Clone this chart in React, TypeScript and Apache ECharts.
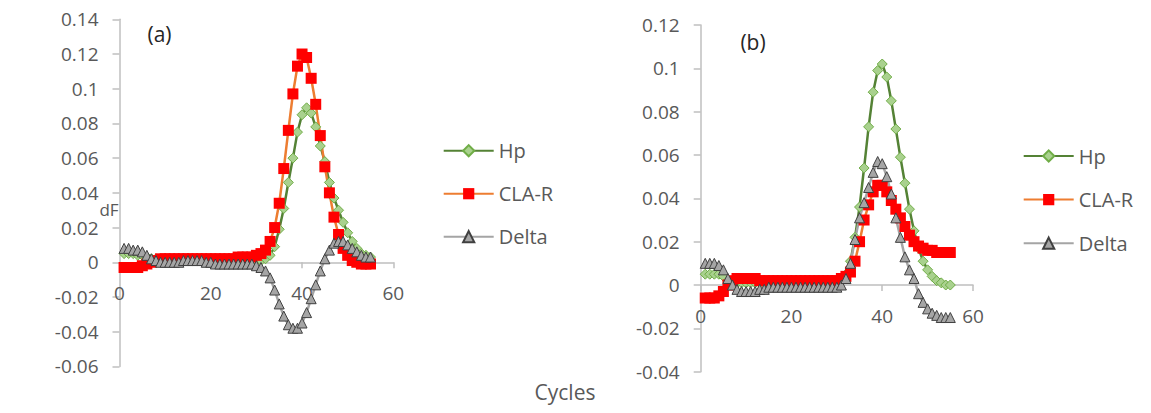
import React, { useEffect, useRef } from "react";
import * as echarts from "echarts";

const cycles = [
  1, 2, 3, 4, 5, 6, 7, 8, 9, 10, 11, 12, 13, 14, 15, 16, 17, 18, 19, 20,
  21, 22, 23, 24, 25, 26, 27, 28, 29, 30, 31, 32, 33, 34, 35, 36, 37, 38, 39, 40,
  41, 42, 43, 44, 45, 46, 47, 48, 49, 50, 51, 52, 53, 54, 55,
];

// Panel (a)
const hpA = [
  0.005, 0.005, 0.005, 0.004, 0.004, 0.003, 0.002, 0.002, 0.002, 0.002,
  0.002, 0.002, 0.002, 0.002, 0.002, 0.002, 0.002, 0.002, 0.002, 0.001,
  0.001, 0.001, 0.001, 0.001, 0.001, 0.001, 0.001, 0.001, 0.001, 0.001,
  0.001, 0.002, 0.004, 0.009, 0.019, 0.031, 0.046, 0.060, 0.075, 0.085,
  0.089, 0.086, 0.078, 0.067, 0.058, 0.046, 0.037, 0.030, 0.023, 0.017,
  0.012, 0.008, 0.005, 0.004, 0.003,
];
const claA = [
  -0.003, -0.003, -0.003, -0.003, -0.002, -0.001, 0.0, 0.001, 0.002, 0.002,
  0.002, 0.002, 0.002, 0.002, 0.002, 0.002, 0.002, 0.002, 0.002, 0.002,
  0.002, 0.002, 0.002, 0.002, 0.002, 0.003, 0.003, 0.003, 0.003, 0.004,
  0.005, 0.007, 0.012, 0.020, 0.034, 0.054, 0.076, 0.097, 0.113, 0.120,
  0.118, 0.106, 0.091, 0.073, 0.055, 0.040, 0.026, 0.016, 0.008, 0.004,
  0.001, 0.0, -0.001, -0.001, -0.001,
];
const deltaA = [
  0.008, 0.008, 0.007, 0.007, 0.006, 0.004, 0.002, 0.001, 0.0, 0.0,
  0.0, 0.0, 0.0, 0.001, 0.001, 0.001, 0.001, 0.001, 0.0, 0.0,
  -0.001, -0.001, -0.001, -0.001, -0.001, -0.001, -0.001, -0.001, -0.001, -0.002,
  -0.003, -0.005, -0.009, -0.016, -0.024, -0.031, -0.036, -0.038, -0.038, -0.035,
  -0.029, -0.021, -0.013, -0.005, 0.002, 0.007, 0.011, 0.012, 0.012, 0.010,
  0.008, 0.006, 0.004, 0.003, 0.003,
];

// Panel (b)
const hpB = [
  0.005, 0.005, 0.005, 0.005, 0.004, 0.002, 0.001, 0.001, 0.001, 0.001,
  0.001, 0.001, 0.001, 0.001, 0.001, 0.001, 0.001, 0.001, 0.001, 0.001,
  0.001, 0.001, 0.001, 0.001, 0.001, 0.001, 0.001, 0.001, 0.001, 0.001,
  0.002, 0.005, 0.011, 0.022, 0.036, 0.054, 0.073, 0.089, 0.099, 0.102,
  0.096, 0.085, 0.072, 0.059, 0.047, 0.035, 0.025, 0.017, 0.011, 0.007,
  0.004, 0.002, 0.001, 0.0, 0.0,
];
const claB = [
  -0.006, -0.006, -0.006, -0.005, -0.003, 0.0, 0.002, 0.003, 0.003, 0.003,
  0.003, 0.003, 0.002, 0.002, 0.002, 0.002, 0.002, 0.002, 0.002, 0.002,
  0.002, 0.002, 0.002, 0.002, 0.002, 0.002, 0.002, 0.002, 0.002, 0.002,
  0.003, 0.004, 0.006, 0.011, 0.020, 0.030, 0.037, 0.043, 0.046, 0.046,
  0.043, 0.039, 0.035, 0.031, 0.027, 0.023, 0.020, 0.018, 0.017, 0.016,
  0.016, 0.015, 0.015, 0.015, 0.015,
];
const deltaB = [
  0.010, 0.010, 0.010, 0.009, 0.007, 0.003, 0.0, -0.002, -0.003, -0.003,
  -0.003, -0.003, -0.002, -0.002, -0.001, -0.001, -0.001, -0.001, -0.001, -0.001,
  -0.001, -0.001, -0.001, -0.001, -0.001, -0.001, -0.001, -0.001, -0.001, -0.001,
  0.0, 0.003, 0.010, 0.021, 0.031, 0.038, 0.045, 0.052, 0.057, 0.056,
  0.050, 0.042, 0.031, 0.022, 0.013, 0.007, 0.003, -0.004, -0.008, -0.011,
  -0.013, -0.014, -0.015, -0.015, -0.015,
];

const seriesNames = ["Hp", "CLA-R", "Delta"];
const xTicks = { min: 0, max: 60, interval: 20 };
const yTicksA = { min: -0.06, max: 0.14, interval: 0.02 };
const yTicksB = { min: -0.04, max: 0.12, interval: 0.02 };

const FONT = "'Open Sans', sans-serif";
const LABEL = "#595959";
const AXIS = "#BFBFBF";

const gridA = { left: 119.5, top: 19.3, width: 273.8, height: 347.1 };
const gridB = { left: 700.7, top: 25, width: 272.3, height: 346.7 };

const pair = (ys: number[]) => cycles.map((c, i) => [c, ys[i]]);

const styles: Record<string, any> = {
  Hp: {
    symbol: "diamond",
    symbolSize: 10,
    lineStyle: { color: "#548235", width: 2.5 },
    itemStyle: { color: "#A9D18E", borderColor: "#70AD47", borderWidth: 1 },
  },
  "CLA-R": {
    symbol: "rect",
    symbolSize: 11,
    lineStyle: { color: "#ED7D31", width: 2.5 },
    itemStyle: { color: "#FF0000", borderColor: "#FF0000", borderWidth: 0 },
  },
  Delta: {
    symbol: "triangle",
    symbolSize: 10,
    lineStyle: { color: "#A5A5A5", width: 2.5 },
    itemStyle: { color: "#A5A5A5", borderColor: "#404040", borderWidth: 1 },
  },
};

const fmt = (v: number) => String(Math.round(v * 100) / 100);

// x axis sits on y = 0: shift it up from the grid bottom by the zero position
function zeroOffset(grid: any, t: any) {
  return -grid.height * ((0 - t.min) / (t.max - t.min));
}

function makeX(gridIndex: number, grid: any, t: any) {
  return {
    type: "value",
    gridIndex,
    ...xTicks,
    position: "bottom",
    offset: zeroOffset(grid, t),
    axisLine: { onZero: false, lineStyle: { color: AXIS, width: 1.5 } },
    axisTick: { show: true, length: 6, lineStyle: { color: AXIS, width: 1.5 } },
    splitLine: { show: false },
    axisLabel: { color: LABEL, fontSize: 19, fontFamily: FONT, margin: 21 },
  };
}
function makeY(gridIndex: number, t: any) {
  return {
    type: "value",
    gridIndex,
    ...t,
    axisLine: { show: true, onZero: false, lineStyle: { color: AXIS, width: 1.5 } },
    axisTick: { show: true, length: 7, lineStyle: { color: AXIS, width: 1.5 } },
    splitLine: { show: false },
    axisLabel: { color: LABEL, fontSize: 19, fontFamily: FONT, margin: 21, formatter: fmt },
  };
}

function makeSeries(name: string, data: number[], idx: number) {
  return {
    type: "line",
    name,
    xAxisIndex: idx,
    yAxisIndex: idx,
    data: pair(data),
    showSymbol: true,
    ...styles[name],
  };
}

export default function App() {
  const ref = useRef<HTMLDivElement>(null);
  useEffect(() => {
    if (!ref.current) return;
    const chart = echarts.init(ref.current, null, { renderer: "svg" });
    const legendBase = {
      orient: "vertical",
      itemWidth: 50,
      itemHeight: 14,
      itemGap: 23,
      textStyle: { color: LABEL, fontSize: 20, fontFamily: FONT },
      data: seriesNames,
    };
    chart.setOption({
      animation: false,
      backgroundColor: "#ffffff",
      grid: [gridA, gridB],
      xAxis: [makeX(0, gridA, yTicksA), makeX(1, gridB, yTicksB)],
      yAxis: [makeY(0, yTicksA), makeY(1, yTicksB)],
      legend: [
        { ...legendBase, left: 437.7, top: 135.7 },
        { ...legendBase, left: 1017.7, top: 141, itemGap: 23.6 },
      ],
      graphic: [
        {
          type: "text",
          x: 159.5,
          y: 34,
          style: { text: "(a)", fontSize: 21, fontFamily: FONT, fill: "#262626", align: "center", verticalAlign: "middle" },
        },
        {
          type: "text",
          x: 753,
          y: 42,
          style: { text: "(b)", fontSize: 21, fontFamily: FONT, fill: "#262626", align: "center", verticalAlign: "middle" },
        },
        {
          type: "text",
          x: 109,
          y: 209,
          style: { text: "dF", fontSize: 17, fontFamily: FONT, fill: LABEL, align: "center", verticalAlign: "middle" },
        },
        {
          type: "text",
          x: 565,
          y: 392,
          style: { text: "Cycles", fontSize: 21, fontFamily: FONT, fill: LABEL, align: "center", verticalAlign: "middle" },
        },
      ],
      series: [
        makeSeries("Hp", hpA, 0),
        makeSeries("CLA-R", claA, 0),
        makeSeries("Delta", deltaA, 0),
        makeSeries("Hp", hpB, 1),
        makeSeries("CLA-R", claB, 1),
        makeSeries("Delta", deltaB, 1),
      ],
    });
    return () => chart.dispose();
  }, []);
  return (
    <div
      ref={ref}
      style={{ position: "absolute", left: 0, top: 0, width: 1151, height: 413, background: "#fff" }}
    />
  );
}
